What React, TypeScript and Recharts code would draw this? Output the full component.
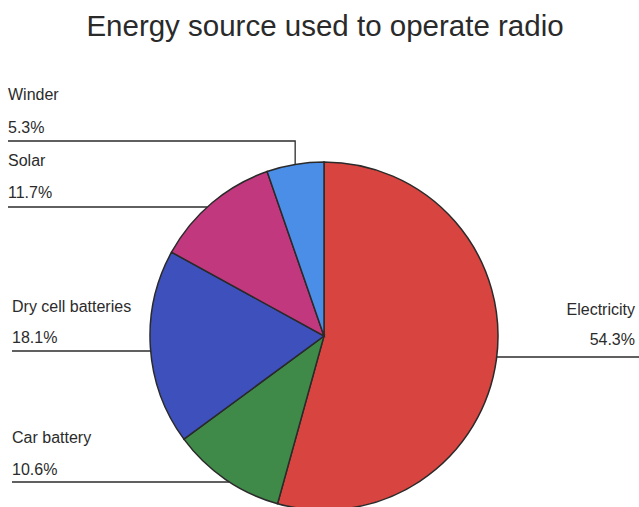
import React from 'react';
import { PieChart, Pie, Cell } from 'recharts';

const sources = ['Electricity', 'Car battery', 'Dry cell batteries', 'Solar', 'Winder'];
const shares = [54.3, 10.6, 18.1, 11.7, 5.3];
const sliceColors = ['#d8443f', '#3f8a48', '#3d50bc', '#c2387f', '#4a8ee8'];

const data = sources.map((name, i) => ({ name, value: shares[i] }));

const RADIAN = Math.PI / 180;
const INK = '#2b2b2b';
const FONT = "'Liberation Sans', Arial, sans-serif";

// where each label sits: text rows plus the leader line row
const labelLayout: Record<string, { side: 'left' | 'right'; nameY: number; valueY: number; lineY: number; x: number; elbow?: boolean }> = {
    Electricity: { side: 'right', nameY: 315, valueY: 345, lineY: 357, x: 635 },
    'Car battery': { side: 'left', nameY: 443, valueY: 475, lineY: 482, x: 12 },
    'Dry cell batteries': { side: 'left', nameY: 312, valueY: 343, lineY: 351, x: 12 },
    Solar: { side: 'left', nameY: 166, valueY: 198, lineY: 207, x: 8 },
    Winder: { side: 'left', nameY: 100, valueY: 133, lineY: 141, x: 8, elbow: true },
};

const renderLabel = (props: any) => {
    const { cx, cy, midAngle, outerRadius, name, value } = props;
    const lay = labelLayout[name];
    if (!lay) return null;
    const r = outerRadius;
    let path: string;
    if (lay.elbow) {
        // goes across, then drops onto the rim above the slice
        const ex = cx + r * Math.cos(-midAngle * RADIAN);
        const ey = cy - Math.sqrt(Math.max(r * r - (ex - cx) * (ex - cx), 0));
        path = `M${lay.x},${lay.lineY} H${ex} V${ey}`;
    } else {
        const dy = lay.lineY - cy;
        const half = Math.sqrt(Math.max(r * r - dy * dy, 0));
        if (lay.side === 'left') {
            path = `M${lay.x},${lay.lineY} H${cx - half}`;
        } else {
            path = `M${cx + half},${lay.lineY} H639`;
        }
    }
    const anchor = lay.side === 'left' ? 'start' : 'end';
    return (
        <g key={name}>
            <path d={path} stroke={INK} strokeWidth={1.3} fill="none" />
            <text x={lay.x} y={lay.nameY} textAnchor={anchor} fill={INK} fontSize={16} fontFamily={FONT}>
                {name}
            </text>
            <text x={lay.x} y={lay.valueY} textAnchor={anchor} fill={INK} fontSize={16} fontFamily={FONT}>
                {`${value.toFixed(1)}%`}
            </text>
        </g>
    );
};

export default function App() {
    return (
        <div style={{ position: 'absolute', left: 0, top: 0, width: 639, height: 507, background: '#fff', overflow: 'hidden' }}>
            <div
                style={{
                    position: 'absolute',
                    left: 0,
                    top: 8,
                    width: 650,
                    textAlign: 'center',
                    fontFamily: FONT,
                    fontSize: 29.5,
                    color: '#2a2a2a',
                    lineHeight: '36px',
                }}
            >
                Energy source used to operate radio
            </div>
            <PieChart
                width={639}
                height={507}
                margin={{ top: 0, right: 0, bottom: 0, left: 0 }}
                style={{ position: 'absolute', left: 0, top: 0 }}
            >
                <Pie
                    data={data}
                    dataKey="value"
                    nameKey="name"
                    cx={324}
                    cy={336}
                    outerRadius={174}
                    startAngle={90}
                    endAngle={-270}
                    stroke="#2a2a2a"
                    strokeWidth={1.5}
                    label={renderLabel}
                    labelLine={false}
                    isAnimationActive={false}
                >
                    {data.map((entry, i) => (
                        <Cell key={entry.name} fill={sliceColors[i]} />
                    ))}
                </Pie>
            </PieChart>
        </div>
    );
}
